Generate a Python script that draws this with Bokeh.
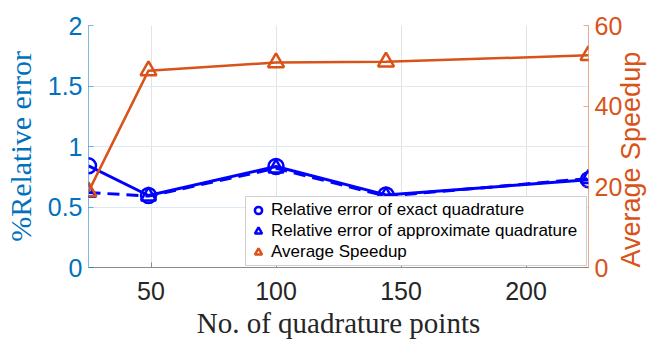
import math
from bokeh.plotting import figure
from bokeh.models import (LinearAxis, Range1d, FixedTicker, Legend, LegendItem)
from bokeh.embed import file_html
from bokeh.resources import INLINE

# ---- data ----
quad_points = [25, 49, 100, 144, 225]
err_exact = [0.84, 0.595, 0.835, 0.60, 0.725]
err_approx = [0.62, 0.59, 0.82, 0.59, 0.735]
speedup = [18.8, 48.8, 50.8, 51.0, 52.6]

x_ticks = [50, 100, 150, 200]
y_ticks = [0, 0.5, 1, 1.5, 2]
y_tick_labels = ["0", "0.5", "1", "1.5", "2"]
y2_ticks = [0, 20, 40, 60]

BLUE = "#0000FF"
LBLUE = "#0072BD"
ORANGE = "#D95319"
SANS = "Liberation Sans"
SERIF = "Liberation Serif"

p = figure(width=664, height=343, output_backend="svg", toolbar_location=None,
           x_range=Range1d(25, 225), y_range=Range1d(0, 2),
           min_border_left=86, min_border_right=74, min_border_top=25,
           min_border_bottom=76, y_axis_location=None)
p.outline_line_color = None
p.background_fill_color = "white"
p.border_fill_color = "white"

p.extra_y_ranges = {"speed": Range1d(0, 60)}

# left axis
yl = LinearAxis(ticker=FixedTicker(ticks=y_ticks))
yl.major_label_overrides = {t: l for t, l in zip(y_ticks, y_tick_labels)}
yl.axis_label = "%Relative error"
yl.axis_label_text_font = SERIF
yl.axis_label_text_font_style = "normal"
yl.axis_label_text_font_size = "30px"
yl.axis_label_text_color = LBLUE
yl.axis_label_standoff = 8
yl.major_label_text_font = SANS
yl.major_label_text_font_size = "25px"
yl.major_label_text_color = LBLUE
yl.major_label_standoff = 6
yl.axis_line_color = LBLUE
yl.axis_line_alpha = 0.5
yl.major_tick_line_color = LBLUE
yl.major_tick_line_alpha = 0.5
yl.major_tick_in = 5
yl.major_tick_out = 0
yl.minor_tick_line_color = None
p.add_layout(yl, "left")

# right axis
yr = LinearAxis(y_range_name="speed", ticker=FixedTicker(ticks=y2_ticks))
yr.axis_label = "Average Speedup"
yr.axis_label_orientation = math.pi / 2
yr.axis_label_align = "start"
yr.axis_label_text_font = SANS
yr.axis_label_text_font_style = "normal"
yr.axis_label_text_font_size = "27px"
yr.axis_label_text_color = ORANGE
yr.axis_label_standoff = 6
yr.major_label_text_font = SANS
yr.major_label_text_font_size = "25px"
yr.major_label_text_color = ORANGE
yr.major_label_standoff = 6
yr.axis_line_color = ORANGE
yr.axis_line_alpha = 0.5
yr.major_tick_line_color = ORANGE
yr.major_tick_line_alpha = 0.5
yr.major_tick_in = 5
yr.major_tick_out = 0
yr.minor_tick_line_color = None
p.add_layout(yr, "right")

# x axis
xa = p.xaxis[0]
xa.ticker = FixedTicker(ticks=x_ticks)
xa.axis_label = "No. of quadrature points"
xa.axis_label_text_font = SERIF
xa.axis_label_text_font_style = "normal"
xa.axis_label_text_font_size = "29px"
xa.axis_label_text_color = "#262626"
xa.axis_label_standoff = 4
xa.major_label_text_font = SANS
xa.major_label_text_font_size = "25px"
xa.major_label_text_color = "#262626"
xa.major_label_standoff = 14
xa.axis_line_color = "#8a8a8a"
xa.major_tick_line_color = "#8a8a8a"
xa.major_tick_in = 5
xa.major_tick_out = 0
xa.minor_tick_line_color = None

# grids
p.xgrid.ticker = FixedTicker(ticks=x_ticks)
p.xgrid.grid_line_color = "#e3e3e3"
p.ygrid.ticker = FixedTicker(ticks=y_ticks)
p.ygrid.grid_line_color = "#dde9f3"

# series
l1 = p.line(quad_points, err_exact, line_color=BLUE, line_width=3)
s1 = p.scatter(quad_points, err_exact, marker="circle", size=15,
               line_color=BLUE, line_width=2.5, fill_color=None)
l2 = p.line(quad_points, err_approx, line_color=BLUE, line_width=3,
            line_dash="12 7")
s2 = p.scatter(quad_points, err_approx, marker="triangle", size=15,
               line_color=BLUE, line_width=2.5, fill_color=None)
l3 = p.line(quad_points, speedup, line_color=ORANGE, line_width=2.5,
            y_range_name="speed")
s3 = p.scatter(quad_points, speedup, marker="triangle", size=16,
               line_color=ORANGE, line_width=2.5, fill_color=None,
               y_range_name="speed")

legend = Legend(items=[
    LegendItem(label="Relative error of exact quadrature", renderers=[s1]),
    LegendItem(label="Relative error of approximate quadrature", renderers=[s2]),
    LegendItem(label="Average Speedup", renderers=[s3]),
], location="bottom_right")
legend.margin = 1
legend.padding = 3
legend.spacing = 1
legend.label_height = 20
legend.glyph_height = 20
legend.glyph_width = 18
legend.label_standoff = 4
legend.label_width = 312
legend.label_text_font = SANS
legend.label_text_font_size = "17px"
legend.label_text_color = "#000000"
legend.border_line_color = "#a0a0a0"
legend.border_line_width = 1
legend.background_fill_color = "white"
legend.background_fill_alpha = 1
p.add_layout(legend, "center")

open("out.html", "w").write(file_html(p, INLINE))
